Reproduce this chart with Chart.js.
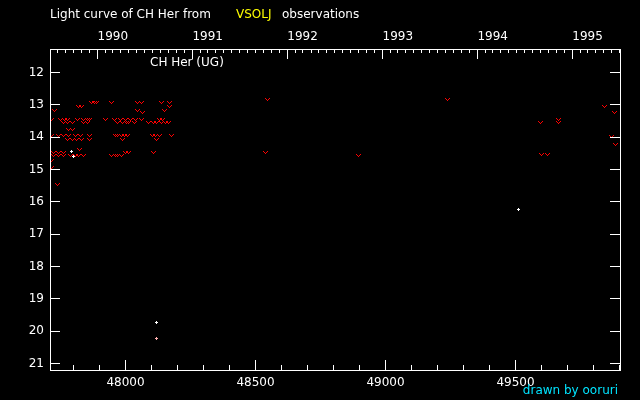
<!DOCTYPE html>
<html>
<head>
<meta charset="utf-8">
<title>Light curve of CH Her</title>
<script src="https://cdn.jsdelivr.net/npm/chart.js@4.4.1/dist/chart.umd.min.js"></script>
<style>
  html, body { margin: 0; padding: 0; background: #000; }
</style>
</head>
<body>
<canvas id="c" width="640" height="400"></canvas>
<script>
/* ---------- data (JD - 2400000, visual magnitude) ---------- */

// "fainter than" reports, drawn as red v
var LIM_JD = [
  47869, 47881, 47890, 47947, 48048, 48062, 48140, 48170,                   // 12.94
  47821, 47831, 48170,                                                      // 13.04
  47727, 48048, 48150,                                                      // 13.16
  48065,                                                                    // 13.25
  47714, 47749, 47765, 47778, 47817, 47838, 47852, 47863, 47922, 47958,
  47981, 48000, 48019, 48038, 48062, 48131, 48142,                          // 13.45
  47762, 47778, 47796, 47838, 47855, 47971, 47987, 48002, 48013, 48033,
  48090, 48106, 48121, 48137, 48152, 48167,                                 // 13.56
  47779, 47798,                                                             // 13.75
  47714, 47742, 47762, 47781, 47806, 47825, 47862, 47960, 47971, 47983,
  47996, 48006, 48102, 48115, 48129, 48177,                                 // 13.96
  47778, 47798, 47813, 47831, 47862, 47987, 48121,                          // 14.06
  47823,                                                                    // 14.38
  47723, 47742, 47762, 48000, 48010, 48106,                                 // 14.47
  47723, 47742, 47762, 47787, 47806, 47821, 47837, 47948, 47960, 47971,
  47983,                                                                    // 14.57
  47714, 47715, 47737,
  48548, 49240, 49844, 49879, 49667, 49598, 49665, 49871, 49886, 48540,
  49600, 49623, 48896
];
var LIM_MAG = [
  12.94, 12.94, 12.94, 12.94, 12.94, 12.94, 12.94, 12.94,
  13.04, 13.04, 13.04,
  13.16, 13.16, 13.16,
  13.25,
  13.45, 13.45, 13.45, 13.45, 13.45, 13.45, 13.45, 13.45, 13.45, 13.45,
  13.45, 13.45, 13.45, 13.45, 13.45, 13.45, 13.45,
  13.56, 13.56, 13.56, 13.56, 13.56, 13.56, 13.56, 13.56, 13.56, 13.56,
  13.56, 13.56, 13.56, 13.56, 13.56, 13.56,
  13.75, 13.75,
  13.96, 13.96, 13.96, 13.96, 13.96, 13.96, 13.96, 13.96, 13.96, 13.96,
  13.96, 13.96, 13.96, 13.96, 13.96, 13.96,
  14.06, 14.06, 14.06, 14.06, 14.06, 14.06, 14.06,
  14.38,
  14.47, 14.47, 14.47, 14.47, 14.47, 14.47,
  14.57, 14.57, 14.57, 14.57, 14.57, 14.57, 14.57, 14.57, 14.57, 14.57,
  14.57,
  14.72, 14.94, 15.45,
  12.85, 12.85, 13.04, 13.25, 13.45, 13.56, 13.56, 13.98, 14.24, 14.46,
  14.55, 14.55, 14.57
];

// positive estimates, white +
var OBS_JD  = [47794, 47799, 48118, 49511];
var OBS_MAG = [14.43, 14.61, 19.73, 16.23];

// the one pink +
var PINK_JD  = [48118];
var PINK_MAG = [20.22];

// axes
var X_TICKS = [48000, 48500, 49000, 49500];
var Y_TICKS = [12, 13, 14, 15, 16, 17, 18, 19, 20, 21];
var YEARS   = ['1990', '1991', '1992', '1993', '1994', '1995'];

var X_MIN = 47709.6, X_MAX = 49901.9;
var Y_MIN = 11.273,  Y_MAX = 21.202;

/* ---------- helpers ---------- */

function jdOf(y, m) {                 // JD - 2400000 at 0h UT on the 1st of the month
  return Date.UTC(y, m, 1) / 864e5 + 40587.5;
}
var YEAR_JD = YEARS.map(function (y) { return jdOf(+y, 0); });

function sprite(rows, color) {        // tiny pixel marker
  var c = document.createElement('canvas');
  c.width = rows[0].length;
  c.height = rows.length;
  var g = c.getContext('2d');
  g.fillStyle = color;
  rows.forEach(function (r, y) {
    for (var x = 0; x < r.length; x++) if (r[x] === '#') g.fillRect(x, y, 1, 1);
  });
  return c;
}
var V_MARK    = sprite(['#...#', '.#.#.', '..#..'], '#ff0000');
var PLUS_W    = sprite(['.#.', '###', '.#.'], '#ffffff');
var PLUS_PINK = sprite(['.#.', '###', '.#.'], '#ffb0b0');

function pts(xs, ys) {
  return xs.map(function (x, i) { return { x: x, y: ys[i] }; });
}

var FONT = '12px "DejaVu Sans"';

/* ---------- frame, inward ticks and loose texts ---------- */
var frame = {
  id: 'frame',
  beforeDraw: function (chart) {
    var ctx = chart.ctx;
    ctx.save();
    ctx.fillStyle = '#000';
    ctx.fillRect(0, 0, chart.width, chart.height);
    ctx.restore();
  },
  beforeDatasetsDraw: function (chart) {
    chart.ctx.imageSmoothingEnabled = false;
  },
  afterDraw: function (chart) {
    var ctx = chart.ctx, a = chart.chartArea;
    var xs = chart.scales.x, ys = chart.scales.y;
    var L = a.left, R = a.right, T = a.top, B = a.bottom;

    ctx.save();
    ctx.strokeStyle = '#fff';
    ctx.lineWidth = 1;
    ctx.strokeRect(L + 0.5, T + 0.5, R - L, B - T);

    ctx.beginPath();
    // bottom: every 100 days, long every 500
    for (var v = 47800; v <= 49900; v += 100) {
      var p = Math.floor(xs.getPixelForValue(v)) + 0.5;
      var len = v % 500 === 0 ? 10 : 5;
      ctx.moveTo(p, B); ctx.lineTo(p, B - len);
    }
    // top: month starts, long at new year
    for (var y = 1989; y <= 1995; y++) {
      for (var m = 0; m < 12; m++) {
        var jd = jdOf(y, m);
        if (jd <= X_MIN || jd >= X_MAX) continue;
        var q = Math.floor(xs.getPixelForValue(jd)) + 0.5;
        ctx.moveTo(q, T); ctx.lineTo(q, T + (m === 0 ? 10 : 4));
      }
    }
    // left and right magnitude ticks
    Y_TICKS.forEach(function (t) {
      var r = Math.floor(ys.getPixelForValue(t)) + 0.5;
      ctx.moveTo(L, r); ctx.lineTo(L + 10, r);
      ctx.moveTo(R, r); ctx.lineTo(R - 10, r);
    });
    ctx.stroke();

    ctx.font = FONT;
    ctx.textBaseline = 'alphabetic';
    ctx.textAlign = 'left';
    ctx.fillStyle = '#fff';
    ctx.fillText('Light curve of CH Her from', 50, 18);
    ctx.fillText('observations', 282, 18);
    ctx.fillText('CH Her (UG)', 150, 66);
    ctx.fillStyle = '#ffff00';
    ctx.fillText('VSOLJ', 236, 18);
    ctx.fillStyle = '#00e4ff';
    ctx.textAlign = 'right';
    ctx.fillText('drawn by ooruri', 618, 394);
    ctx.restore();
  }
};

Chart.defaults.font.family = '"DejaVu Sans"';
Chart.defaults.font.size = 12;
Chart.defaults.color = '#fff';

new Chart(document.getElementById('c').getContext('2d'), {
  type: 'scatter',
  data: {
    datasets: [
      { label: 'fainter than', data: pts(LIM_JD, LIM_MAG), pointStyle: V_MARK, pointRadius: 3 },
      { label: 'visual', data: pts(OBS_JD, OBS_MAG), pointStyle: PLUS_W, pointRadius: 3 },
      { label: 'visual (pink)', data: pts(PINK_JD, PINK_MAG), pointStyle: PLUS_PINK, pointRadius: 3 }
    ]
  },
  options: {
    responsive: false,
    animation: false,
    events: [],
    layout: { padding: { left: 0, top: 0, right: 20, bottom: 0 } },
    plugins: { legend: { display: false }, tooltip: { enabled: false }, title: { display: false } },
    scales: {
      x: {
        type: 'linear', position: 'bottom', min: X_MIN, max: X_MAX,
        afterBuildTicks: function (s) { s.ticks = X_TICKS.map(function (v) { return { value: v }; }); },
        afterFit: function (s) { s.height = 30; },
        grid: { display: false, drawTicks: false },
        border: { display: false },
        ticks: { color: '#fff', padding: 6, maxRotation: 0, autoSkip: false,
                 callback: function (v) { return String(v); } }
      },
      x2: {
        type: 'linear', position: 'top', min: X_MIN, max: X_MAX,
        afterBuildTicks: function (s) { s.ticks = YEAR_JD.map(function (v) { return { value: v }; }); },
        afterFit: function (s) { s.height = 49; },
        grid: { display: false, drawTicks: false },
        border: { display: false },
        ticks: { color: '#fff', padding: 5, align: 'start', maxRotation: 0, autoSkip: false,
                 callback: function (v, i) { return YEARS[i]; } }
      },
      y: {
        type: 'linear', position: 'left', reverse: true, min: Y_MIN, max: Y_MAX,
        afterBuildTicks: function (s) { s.ticks = Y_TICKS.map(function (v) { return { value: v }; }); },
        afterFit: function (s) { s.width = 50; },
        grid: { display: false, drawTicks: false },
        border: { display: false },
        ticks: { color: '#fff', padding: 6, autoSkip: false,
                 callback: function (v) { return String(v); } }
      }
    }
  },
  plugins: [frame]
});
</script>
</body>
</html>
